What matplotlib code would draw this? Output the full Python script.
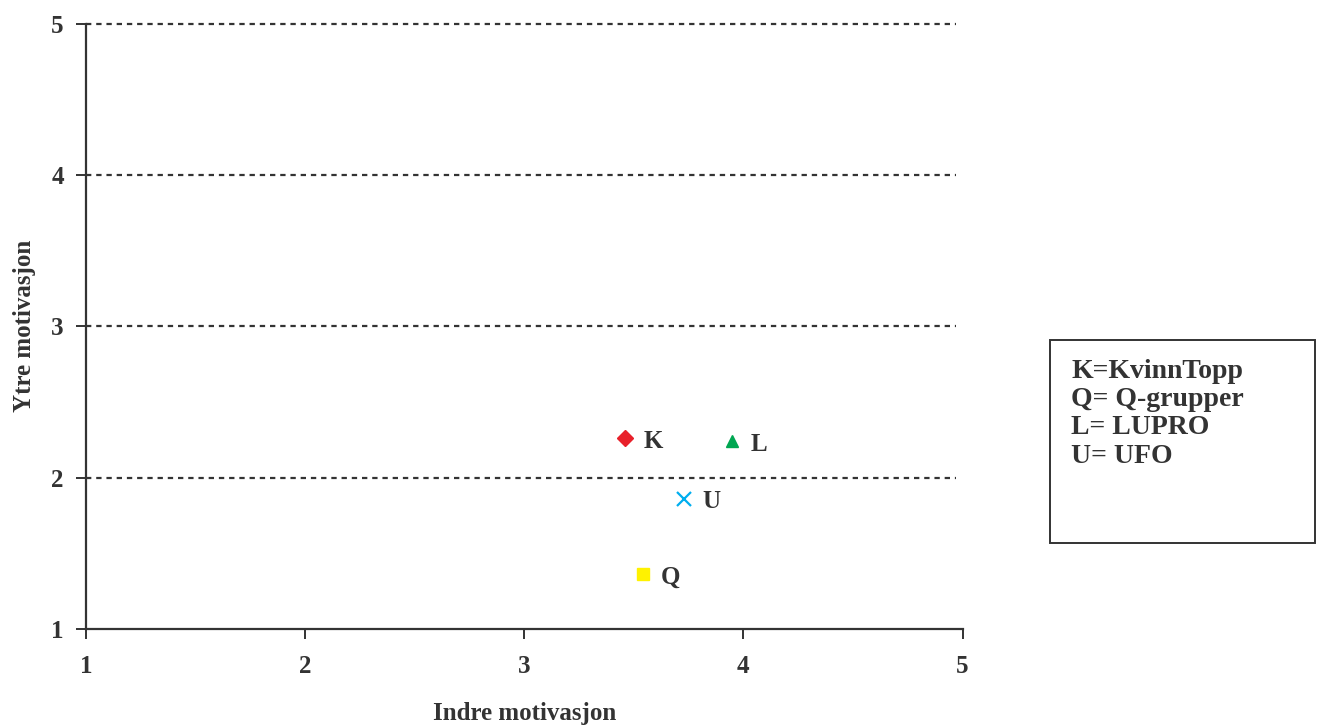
import matplotlib.pyplot as plt
from matplotlib.patches import Rectangle

# motivasjonsverdier per gruppe
grupper = ['K', 'L', 'U', 'Q']
indre = [3.46, 3.95, 3.73, 3.54]
ytre = [2.26, 2.24, 1.86, 1.36]
markorer = ['D', '^', 'x', 's']
farger = ['#E8202A', '#00A651', '#00AEEF', '#FFF200']
forklaring = ['K=KvinnTopp', 'Q= Q-grupper', 'L= LUPRO', 'U= UFO']

plt.rcParams['font.family'] = ['Liberation Serif', 'DejaVu Serif']
plt.rcParams['font.weight'] = 'bold'
tekstfarge = '#333333'

fig = plt.figure(figsize=(13.22, 7.27), dpi=100)
ax = fig.add_axes([0.0651, 0.1352, 0.6630, 0.8318])

for g, x, y, m, c in zip(grupper, indre, ytre, markorer, farger):
    if m == 'x':
        ax.plot(x, y, m, color=c, markersize=10, mew=1.6, clip_on=False)
    else:
        ax.plot(x, y, m, color=c, markersize=8 if m != '^' else 9, clip_on=False)
    ax.annotate(g, (x, y), xytext=(13, -2), textcoords='offset points',
                ha='left', va='center', fontsize=18, fontweight='bold',
                color=tekstfarge)

ax.set_xlim(1, 5)
ax.set_ylim(1, 5)
ax.set_xticks([1, 2, 3, 4, 5])
ax.set_yticks([1, 2, 3, 4, 5])
for y in [2, 3, 4, 5]:
    ax.plot([1, 4.97], [y, y], color=tekstfarge, linestyle=(0, (2.4, 2.2)),
            linewidth=1.6, clip_on=False)

for s in ['top', 'right']:
    ax.spines[s].set_visible(False)
for s in ['left', 'bottom']:
    ax.spines[s].set_color(tekstfarge)
    ax.spines[s].set_linewidth(1.6)
ax.tick_params(colors=tekstfarge, labelsize=18, length=7, width=1.4)
ax.tick_params(axis='x', pad=12)
ax.tick_params(axis='y', pad=9)
for lab in ax.get_xticklabels() + ax.get_yticklabels():
    lab.set_fontweight('bold')

ax.set_xlabel('Indre motivasjon', fontsize=18, fontweight='bold',
              color=tekstfarge, labelpad=17)
ax.set_ylabel('Ytre motivasjon', fontsize=18, fontweight='bold',
              color=tekstfarge, labelpad=11)

# forklaringsboks til høyre
fig.patches.append(Rectangle((1050 / 1322, 1 - 543 / 727), 265 / 1322, 203 / 727,
                             transform=fig.transFigure, fill=False,
                             edgecolor=tekstfarge, linewidth=1.4))
for i, t in enumerate(forklaring):
    fig.text(1071 / 1322, 1 - (371 + i * 28.5) / 727, t, fontsize=20,
             fontweight='bold', color=tekstfarge, va='center')

fig.savefig('out.png', dpi=100)
